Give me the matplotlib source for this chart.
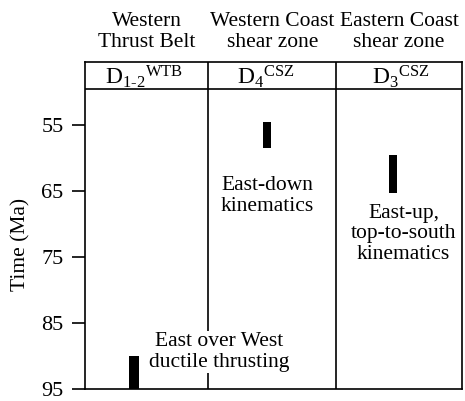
import matplotlib
matplotlib.use('Agg')
import matplotlib.pyplot as plt

plt.rcParams['font.family'] = 'Liberation Serif'
plt.rcParams['mathtext.fontset'] = 'custom'
plt.rcParams['mathtext.rm'] = 'Liberation Serif'
plt.rcParams['mathtext.it'] = 'Liberation Serif'

zones = ['Western\nThrust Belt', 'Western Coast\nshear zone', 'Eastern Coast\nshear zone']
# subscript first, superscript after it (not stacked)
events = [r'$\mathrm{D}_{1\text{-}2}{}^{\mathrm{WTB}}$',
          r'$\mathrm{D}_{4}{}^{\mathrm{CSZ}}$',
          r'$\mathrm{D}_{3}{}^{\mathrm{CSZ}}$']
age_young = [90.0, 54.5, 59.5]
age_old = [95.0, 58.5, 65.3]
kinematics = ['East over West\nductile thrusting', 'East-down\nkinematics',
              'East-up,\ntop-to-south\nkinematics']
time_ticks = [55, 65, 75, 85, 95]

col_edges = [0, 0.98, 2.0, 3.0]
event_dx = [-0.02, -0.055, 0.015]
bar_x = [0.39, 1.448, 2.451]
bar_w = [0.08, 0.064, 0.064]
label_xy = [(1.07, 89.4), (1.448, 65.8), (2.535, 71.5)]
header_bottom = 49.55
fs = 15.5

fig = plt.figure(figsize=(4.65, 4.01), dpi=100)
ax = fig.add_axes([85 / 465, 12 / 401, 377 / 465, 327 / 401])
ax.set_xlim(0, 3)
ax.set_ylim(95, 45.45)

for s in ax.spines.values():
    s.set_linewidth(1.2)

ax.axhline(header_bottom, color='black', lw=1.2)
for xe in col_edges[1:-1]:
    ax.axvline(xe, color='black', lw=1.2, zorder=1)

for i in range(3):
    xc = (col_edges[i] + col_edges[i + 1]) / 2
    ax.text(xc + event_dx[i], 47.7, events[i], ha='center', va='center', fontsize=17)
    ax.text(xc, 1.03, zones[i], transform=ax.get_xaxis_transform(),
            ha='center', va='bottom', fontsize=fs, linespacing=1.15)

ax.bar(bar_x, [o - y for y, o in zip(age_young, age_old)], bottom=age_young,
       width=bar_w, color='black', zorder=3)

for txt, (x, y) in zip(kinematics, label_xy):
    ax.text(x, y, txt, ha='center', va='center', fontsize=fs, linespacing=1.12,
            zorder=2, bbox=dict(facecolor='white', edgecolor='none', pad=1))

ax.set_xticks([])
ax.set_yticks(time_ticks)
ax.tick_params(axis='y', direction='out', length=9.5, width=1.2, labelsize=16, pad=6)
ax.set_ylabel('Time (Ma)', fontsize=fs)
ax.yaxis.set_label_coords(-0.145, 0.443)

fig.savefig('out.png', dpi=100)
